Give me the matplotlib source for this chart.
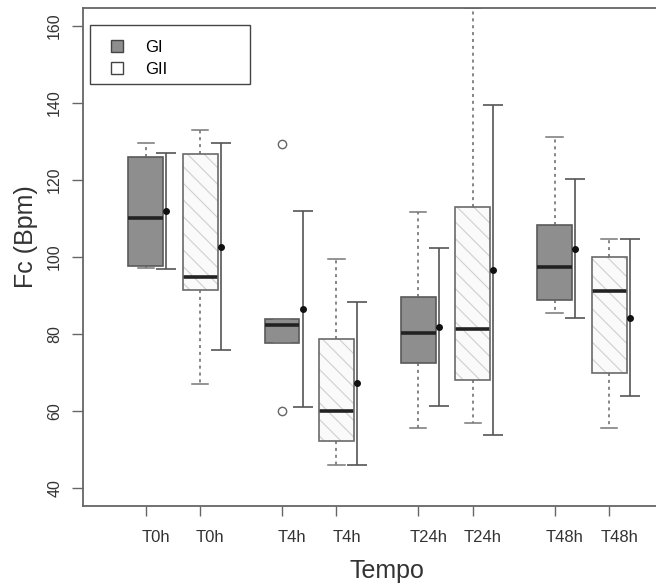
import matplotlib
matplotlib.use('Agg')
import matplotlib.pyplot as plt
import matplotlib.transforms as mtransforms
from matplotlib.patches import Patch, PathPatch, Rectangle

plt.rcParams['font.family'] = ['Liberation Sans', 'DejaVu Sans']
plt.rcParams['hatch.linewidth'] = 0.8

# data
groups = ['GI', 'GII']
time_labels = ['T0h', 'T0h', 'T4h', 'T4h', 'T24h', 'T24h', 'T48h', 'T48h']
box_group = ['GI', 'GII', 'GI', 'GII', 'GI', 'GII', 'GI', 'GII']
medians = [110.0, 94.7, 82.3, 60.0, 80.1, 81.3, 97.4, 91.1]
q1 = [97.7, 91.4, 77.5, 52.1, 72.5, 68.0, 88.8, 69.9]
q3 = [126.0, 126.7, 83.8, 78.6, 89.5, 112.9, 108.3, 100.0]
whis_lo = [97.0, 66.9, 77.5, 45.9, 55.4, 56.7, 85.3, 55.4]
whis_hi = [129.7, 133.0, 83.8, 99.4, 111.7, 164.6, 131.2, 104.6]
outliers = [[], [], [129.3, 60.0], [], [], [], [], []]
means = [112.0, 102.6, 86.5, 67.1, 81.8, 96.6, 102.1, 84.2]
sds = [15.1, 26.9, 25.5, 21.3, 20.5, 42.8, 18.1, 20.4]

positions = [1, 2, 3.5, 4.5, 6, 7, 8.5, 9.5]
sd_offset = 0.38

fig = plt.figure(figsize=(6.56, 5.88), dpi=100)
ax = fig.add_axes([83 / 656, 82 / 588, 0.9, 498 / 588])

stats = []
for i in range(len(medians)):
    stats.append({'med': medians[i], 'q1': q1[i], 'q3': q3[i],
                  'whislo': whis_lo[i], 'whishi': whis_hi[i],
                  'fliers': outliers[i]})

bp = ax.bxp(stats, positions=positions, widths=0.64, capwidths=0.3,
            patch_artist=True, showfliers=True,
            boxprops=dict(edgecolor='#5a5a5a', linewidth=1.2),
            medianprops=dict(color='#222222', linewidth=2.6, solid_capstyle='butt'),
            whiskerprops=dict(color='#666666', linewidth=1.1, linestyle=(0, (2, 2.5))),
            capprops=dict(color='#777777', linewidth=1.1),
            flierprops=dict(marker='o', markerfacecolor='none', markeredgecolor='#666666',
                            markersize=6, markeredgewidth=1.0))

for box, g in zip(bp['boxes'], box_group):
    if g == 'GI':
        box.set_facecolor('#8e8e8e')
    else:
        box.set_facecolor('#fafafa')
        box.set_hatch(r'\\')
        box.set_edgecolor('#cfcfcf')
        box.set_linewidth(0)
        ax.add_patch(PathPatch(box.get_path(), fill=False, edgecolor='#6a6a6a',
                               linewidth=1.2, zorder=box.get_zorder() + 0.1))

# mean +/- sd bars beside each box
for p, m, s in zip(positions, means, sds):
    ax.errorbar(p + sd_offset, m, yerr=s, fmt='o', color='#555555', ecolor='#555555',
                markerfacecolor='#111111', markeredgecolor='#111111', markersize=4,
                elinewidth=1.2, capsize=7, capthick=1.2, zorder=4)

ax.set_xlim(-0.15, 10.68)
ax.set_ylim(35.25, 164.7)
ax.set_xticks(positions)
ax.set_xticklabels(time_labels, fontsize=12, color='#333333')
ax.set_yticks([40, 60, 80, 100, 120, 140, 160])
ax.set_yticklabels(['40', '60', '80', '100', '120', '140', '160'], fontsize=11.5,
                   rotation=90, va='center', color='#333333')
ax.tick_params(axis='x', length=7, width=1, color='#666666', pad=10)
ax.tick_params(axis='y', length=8, width=1, color='#666666', pad=7)
shift = mtransforms.ScaledTranslation(0.1, 0, fig.dpi_scale_trans)
for lab in ax.get_xticklabels():
    lab.set_transform(lab.get_transform() + shift)

for side in ['left', 'bottom', 'top']:
    ax.spines[side].set_color('#666666')
    ax.spines[side].set_linewidth(1.3)
ax.spines['right'].set_visible(False)

ax.set_ylabel('Fc (Bpm)', fontsize=18, color='#333333')
ax.yaxis.set_label_coords(-0.076, 0.54)
fig.text(387 / 656, 1 - 571 / 588, 'Tempo', fontsize=18, color='#333333',
         ha='center', va='center')

# legend box in the top-left corner
ax.add_patch(Rectangle((0.012, 0.847), 0.271, 0.119, transform=ax.transAxes,
                       fill=False, edgecolor='#444444', linewidth=1.0, zorder=5))
handles = [Patch(facecolor='#8e8e8e', edgecolor='#444444', label=groups[0]),
           Patch(facecolor='#ffffff', edgecolor='#444444', label=groups[1])]
ax.legend(handles=handles, loc='upper left', bbox_to_anchor=(0.036, 0.95),
          frameon=False, fontsize=12, handlelength=0.75, handleheight=0.75,
          handletextpad=1.3, labelspacing=0.45, borderaxespad=0)

fig.savefig('out.png', dpi=100)
